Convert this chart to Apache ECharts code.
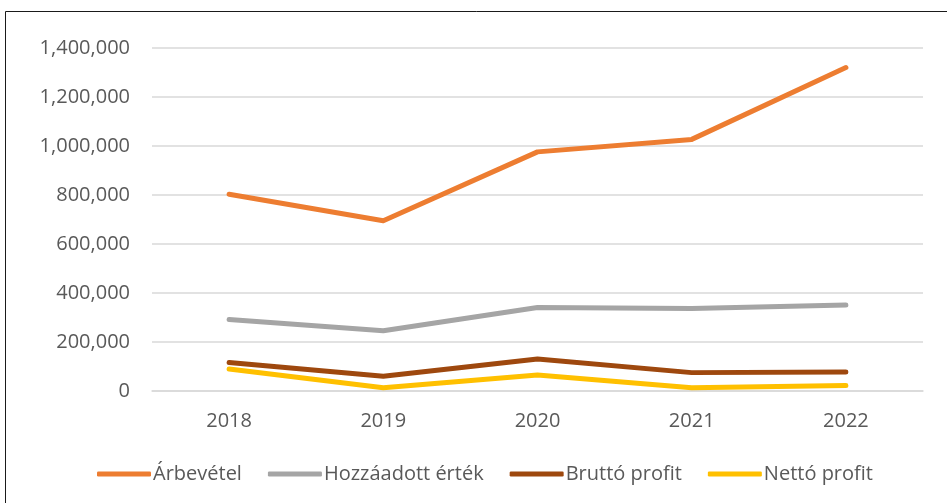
<!DOCTYPE html>
<html>
<head>
<meta charset="utf-8">
<script src="https://cdn.jsdelivr.net/npm/echarts@6/dist/echarts.min.js"></script>
<style>
  html, body { margin: 0; padding: 0; background: #fff; }
  #chart { width: 947px; height: 503px; }
</style>
</head>
<body>
<div id="chart"></div>
<script>
// Yearly company figures (HUF thousand)
const years = ['2018', '2019', '2020', '2021', '2022'];
const arbevetel = [803000, 695000, 976000, 1027000, 1320000];
const hozzaadott = [292000, 246000, 341000, 337000, 351000];
const brutto = [116000, 60000, 131000, 75000, 78000];
const netto = [90000, 13000, 65000, 13000, 22000];

const seriesNames = ['Árbevétel', 'Hozzáadott érték', 'Bruttó profit', 'Nettó profit'];
const seriesColors = ['#ED7D31', '#A5A5A5', '#9E480E', '#FFC000'];
const seriesData = [arbevetel, hozzaadott, brutto, netto];

const FONT = '"Open Sans", sans-serif';
const TEXT = '#595959';

function withCommas(v) {
  return String(v).replace(/\B(?=(\d{3})+(?!\d))/g, ',');
}

const chart = echarts.init(document.getElementById('chart'), null, { renderer: 'canvas' });

chart.setOption({
  backgroundColor: '#ffffff',
  animation: false,
  graphic: [{
    type: 'rect',
    shape: { x: 5.5, y: 11.5, width: 1000, height: 600 },
    style: { fill: 'none', stroke: '#1a1a1a', lineWidth: 1 },
    silent: true
  }],
  grid: { left: 152, right: 24, top: 48, bottom: 112, containLabel: false },
  legend: {
    data: seriesNames,
    left: 92,
    top: 459,
    icon: 'roundRect',
    itemWidth: 54,
    itemHeight: 5,
    itemGap: 26,
    textStyle: { fontFamily: FONT, fontSize: 20, color: TEXT, padding: [0, 0, 0, -3] }
  },
  xAxis: {
    type: 'category',
    data: years,
    boundaryGap: true,
    axisLine: { show: true, lineStyle: { color: '#D9D9D9', width: 1.5 } },
    axisTick: { show: false },
    axisLabel: { fontFamily: FONT, fontSize: 20, color: TEXT, margin: 20 }
  },
  yAxis: {
    type: 'value',
    min: 0,
    max: 1400000,
    interval: 200000,
    axisLine: { show: false },
    axisTick: { show: false },
    splitLine: { lineStyle: { color: '#D9D9D9', width: 1.5 } },
    axisLabel: {
      fontFamily: FONT, fontSize: 20, color: TEXT, margin: 22,
      formatter: withCommas
    }
  },
  series: seriesData.map((d, i) => ({
    name: seriesNames[i],
    type: 'line',
    data: d,
    showSymbol: false,
    symbol: 'none',
    smooth: false,
    color: seriesColors[i],
    lineStyle: { width: 5, color: seriesColors[i], cap: 'round', join: 'round' },
    z: 10 - i
  }))
});
</script>
</body>
</html>
